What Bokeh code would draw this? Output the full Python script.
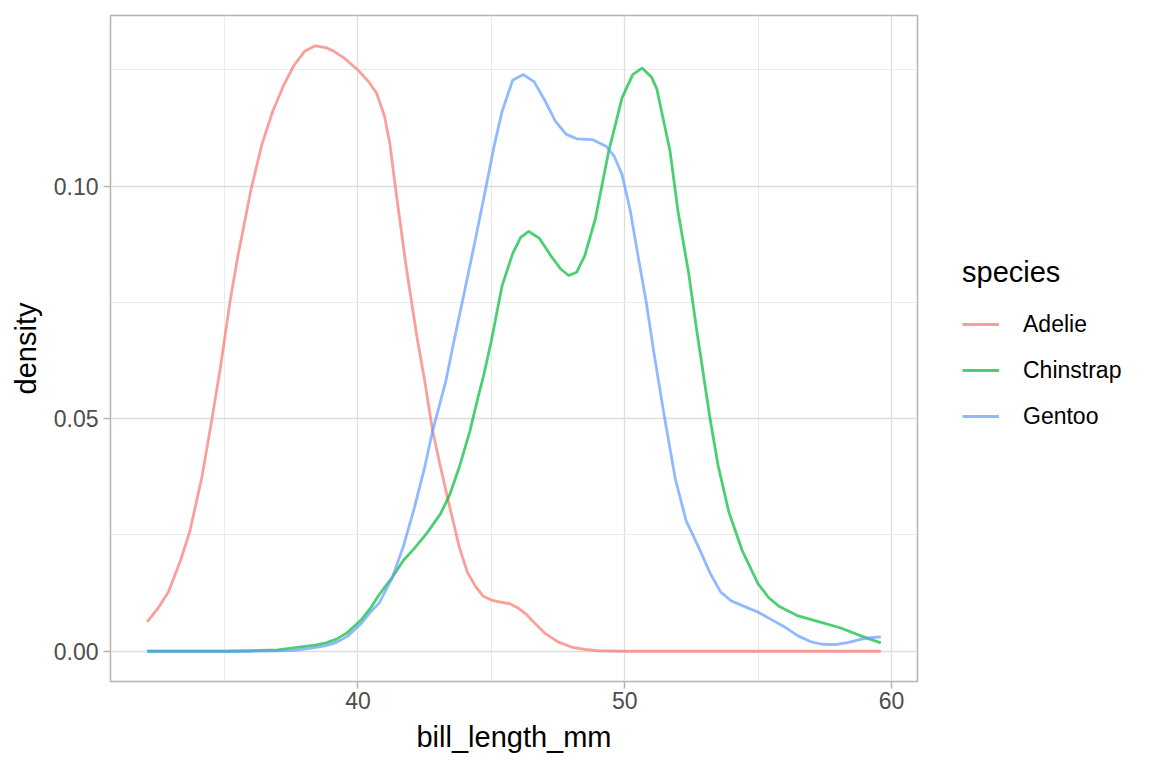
from bokeh.plotting import figure
from bokeh.layouts import row
from bokeh.models import Range1d, FixedTicker, PrintfTickFormatter, Legend, LegendItem
from bokeh.embed import file_html
from bokeh.resources import INLINE

# density curves (bill_length_mm vs density)
adelie_x = [32.1, 32.5, 32.9, 33.35, 33.7, 34.15, 34.5, 34.85, 35.2, 35.5, 36.0, 36.4, 36.8,
            37.2, 37.6, 38.0, 38.4, 38.8, 39.1, 39.5, 40.0, 40.4, 40.7, 41.0, 41.2, 41.4,
            41.8, 42.2, 42.5, 42.8, 43.1, 43.4, 43.8, 44.1, 44.4, 44.7, 45.0, 45.3, 45.7,
            46.0, 46.3, 46.6, 47.0, 47.5, 48.0, 48.5, 49.0, 50.0, 55.0, 59.6]
adelie_y = [0.0063, 0.0092, 0.0128, 0.0195, 0.0258, 0.0374, 0.0490, 0.0612, 0.0750, 0.0850,
            0.0995, 0.1090, 0.1160, 0.1215, 0.1260, 0.1290, 0.1302, 0.1298, 0.1290, 0.1275,
            0.1250, 0.1225, 0.1200, 0.1150, 0.1090, 0.1000, 0.0830, 0.0680, 0.0582, 0.0474,
            0.0395, 0.0320, 0.0224, 0.0170, 0.0140, 0.0118, 0.0110, 0.0106, 0.0102, 0.0093,
            0.0080, 0.0062, 0.0039, 0.0020, 0.0009, 0.0004, 0.0001, 0.0, 0.0, 0.0]

chinstrap_x = [32.1, 35.0, 36.0, 37.0, 37.8, 38.4, 38.8, 39.2, 39.6, 40.1, 40.5, 40.8, 41.3,
               41.7, 42.1, 42.6, 43.1, 43.45, 43.8, 44.2, 44.5, 44.7, 45.0, 45.4, 45.8, 46.1,
               46.4, 46.8, 47.2, 47.6, 47.9, 48.2, 48.5, 48.9, 49.4, 49.9, 50.3, 50.65, 51.0,
               51.2, 51.7, 52.0, 52.4, 52.7, 53.2, 53.5, 53.9, 54.4, 55.0, 55.4, 55.8, 56.5,
               57.3, 58.1, 58.9, 59.6]
chinstrap_y = [0.0, 0.0, 0.0001, 0.0003, 0.0009, 0.0013, 0.0018, 0.0026, 0.0040, 0.0066,
               0.0095, 0.0122, 0.0160, 0.0195, 0.0220, 0.0255, 0.0296, 0.0338, 0.0396, 0.0474,
               0.0546, 0.0590, 0.0667, 0.0785, 0.0855, 0.0890, 0.0903, 0.0888, 0.0853, 0.0822,
               0.0808, 0.0815, 0.0850, 0.0930, 0.1075, 0.1190, 0.1240, 0.1254, 0.1235, 0.1210,
               0.1075, 0.0945, 0.0812, 0.0690, 0.0500, 0.0400, 0.0300, 0.0217, 0.0145, 0.0115,
               0.0096, 0.0076, 0.0063, 0.0050, 0.0032, 0.0018]

gentoo_x = [32.1, 36.0, 37.0, 37.6, 38.2, 38.8, 39.2, 39.6, 40.1, 40.5, 40.8, 41.3, 41.7,
            42.1, 42.5, 42.8, 43.3, 43.6, 44.0, 44.4, 44.8, 45.1, 45.4, 45.8, 46.2, 46.6,
            47.0, 47.4, 47.8, 48.2, 48.8, 49.3, 49.6, 49.9, 50.2, 50.5, 50.8, 51.1, 51.5,
            51.9, 52.3, 52.8, 53.2, 53.6, 54.0, 54.5, 55.0, 55.5, 56.0, 56.5, 57.0, 57.4,
            57.9, 58.4, 58.8, 59.2, 59.6]
gentoo_y = [0.0, 0.0, 0.0001, 0.0002, 0.0006, 0.0012, 0.0019, 0.0032, 0.0058, 0.0086,
            0.0104, 0.0160, 0.0225, 0.0305, 0.0395, 0.0474, 0.0582, 0.0667, 0.0775, 0.0885,
            0.0998, 0.1085, 0.1160, 0.1228, 0.1240, 0.1225, 0.1185, 0.1140, 0.1112, 0.1102,
            0.1100, 0.1086, 0.1065, 0.1025, 0.0950, 0.0850, 0.0753, 0.0640, 0.0500, 0.0370,
            0.0281, 0.0220, 0.0168, 0.0127, 0.0108, 0.0096, 0.0084, 0.0068, 0.0052, 0.0033,
            0.0020, 0.0015, 0.0014, 0.0019, 0.0025, 0.0029, 0.0031]

species = ["Adelie", "Chinstrap", "Gentoo"]
colors = ["#F8766D", "#00BA38", "#619CFF"]

x_major = [40, 50, 60]
x_minor = [35, 45, 55]
y_major = [0.0, 0.05, 0.10]
y_minor = [0.025, 0.075, 0.125]

FONT = "Liberation Sans"
all_x = [adelie_x, chinstrap_x, gentoo_x]
all_y = [adelie_y, chinstrap_y, gentoo_y]

p = figure(
    frame_width=807,
    frame_height=666,
    min_border_left=110,
    min_border_right=2,
    min_border_top=15,
    min_border_bottom=87,
    x_range=Range1d(30.725, 60.975),
    y_range=Range1d(-0.00651, 0.13671),
    output_backend="svg",
    toolbar_location=None,
)
p.background_fill_color = "white"
p.border_fill_color = "white"
p.outline_line_color = "#B3B3B3"
p.outline_line_width = 1.5

p.xaxis.ticker = FixedTicker(ticks=x_major, minor_ticks=x_minor)
p.yaxis.ticker = FixedTicker(ticks=y_major, minor_ticks=y_minor)
p.yaxis.formatter = PrintfTickFormatter(format="%.2f")

for ax in [p.xaxis[0], p.yaxis[0]]:
    ax.axis_line_color = None
    ax.major_tick_line_color = "#B3B3B3"
    ax.major_tick_line_width = 1.5
    ax.major_tick_out = 7
    ax.major_tick_in = 0
    ax.minor_tick_line_color = None
    ax.major_label_text_font = FONT
    ax.major_label_text_font_size = "23px"
    ax.major_label_text_color = "#4D4D4D"
    ax.axis_label_text_font = FONT
    ax.axis_label_text_font_size = "29px"
    ax.axis_label_text_font_style = "normal"
    ax.axis_label_text_color = "black"

p.xaxis.axis_label = "bill_length_mm"
p.yaxis.axis_label = "density"
p.xaxis.major_label_standoff = 3
p.xaxis.axis_label_standoff = 9
p.yaxis.major_label_standoff = 5
p.yaxis.axis_label_standoff = 9

for g in [p.xgrid[0], p.ygrid[0]]:
    g.grid_line_color = "#DEDEDE"
    g.grid_line_width = 1.3
    g.minor_grid_line_color = "#EBEBEB"
    g.minor_grid_line_width = 1.0

for xs, ys, c in zip(all_x, all_y, colors):
    p.line(xs, ys, line_color=c, line_alpha=0.7, line_width=2.8, line_join="round")

# guide panel on the right (ggplot-style legend outside the plot panel);
# the series are re-drawn here outside its visible range, only to feed the legend keys
leg = figure(
    width=233, height=768,
    x_range=Range1d(0, 1), y_range=Range1d(0, 1),
    min_border=0,
    output_backend="svg",
    toolbar_location=None,
)
leg.axis.visible = False
leg.grid.visible = False
leg.outline_line_color = None
leg.background_fill_color = "white"
leg.border_fill_color = "white"

items = []
for name, xs, ys, c in zip(species, all_x, all_y, colors):
    r = leg.line(xs, ys, line_color=c, line_alpha=0.7, line_width=2.8)
    items.append(LegendItem(label=name, renderers=[r]))

legend = Legend(
    items=items,
    title="species",
    location=(43, 248),
    margin=0,
    padding=0,
    spacing=12,
    glyph_width=37,
    glyph_height=34,
    label_height=34,
    label_standoff=24,
    title_standoff=18,
    border_line_color=None,
    background_fill_alpha=0,
    title_text_font=FONT,
    title_text_font_size="29px",
    title_text_font_style="normal",
    title_text_color="black",
    label_text_font=FONT,
    label_text_font_size="23px",
    label_text_color="black",
)
leg.add_layout(legend)

layout = row(p, leg)
open("out.html", "w").write(file_html(layout, INLINE))
